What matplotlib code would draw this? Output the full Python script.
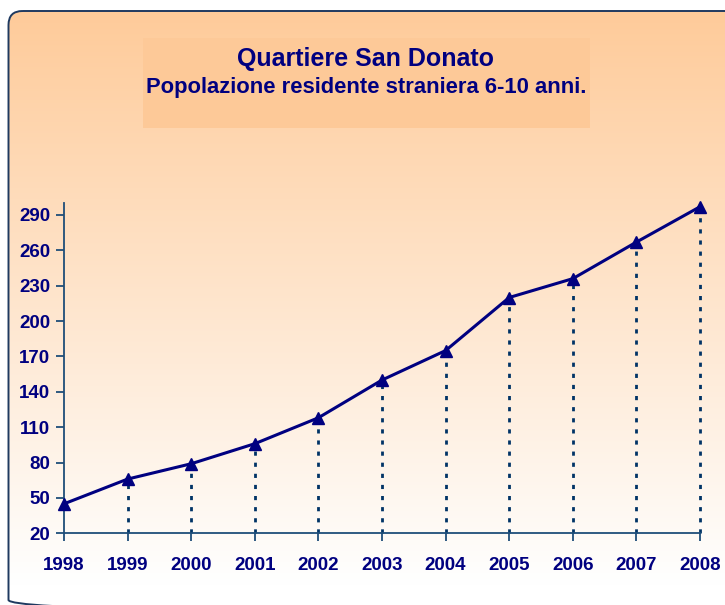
import numpy as np
import matplotlib
matplotlib.use("Agg")
import matplotlib.pyplot as plt
from matplotlib.patches import FancyBboxPatch, Rectangle

years = [1998, 1999, 2000, 2001, 2002, 2003, 2004, 2005, 2006, 2007, 2008]
values = [45, 66, 79, 96, 118, 150, 175, 220, 236, 267, 297]
yticks = [20, 50, 80, 110, 140, 170, 200, 230, 260, 290]
title = "Quartiere San Donato"
subtitle = "Popolazione residente straniera 6-10 anni."

navy = "#000080"
axcol = "#1F4E79"
W, H = 725, 605
fig = plt.figure(figsize=(W / 100, H / 100), dpi=100)
fig.patch.set_facecolor("white")

# background with gradient inside rounded frame
bg = fig.add_axes([0, 0, 1, 1])
bg.set_xlim(0, W)
bg.set_ylim(H, 0)
bg.axis("off")
top = np.array([254, 203, 154]) / 255
bot = np.array([255, 255, 255]) / 255
t = np.linspace(0, 1, 256)[:, None]
t = np.clip(t * 1.05, 0, 1)
grad = top[None, :] * (1 - t) + bot[None, :] * t
grad = np.repeat(grad[:, None, :], 2, axis=1)
frame = FancyBboxPatch((8.5, 11), 730, 603, boxstyle="round,pad=0,rounding_size=14",
                       facecolor="none", edgecolor="#1F3A60", linewidth=1.4, zorder=3)
bg.add_patch(frame)
im = bg.imshow(grad, extent=(8, 740, 614, 11), aspect="auto", zorder=1)
im.set_clip_path(frame)
bg.add_patch(Rectangle((143, 38), 447, 90, facecolor="#FDC998", edgecolor="none", zorder=2))
bg.text(366, 59, title, ha="center", va="center", fontsize=18, fontweight="bold",
        color=navy, family="Liberation Sans", zorder=4)
bg.text(366, 87, subtitle, ha="center", va="center", fontsize=15.8, fontweight="bold",
        color=navy, family="Liberation Sans", zorder=4)

ax = fig.add_axes([64 / W, 1 - 533.3 / H, (700 - 64) / W, (533.3 - 203.2) / H])
ax.patch.set_alpha(0)
ax.set_xlim(1998, 2008)
ax.set_ylim(20, 300)
ax.vlines(years[1:], 20, values[1:], colors="#003366", linestyles=(0, (1.5, 2.5)),
          linewidth=2, clip_on=False)
ax.plot(years, values, color=navy, linewidth=2.2, marker="^", markersize=8.5,
        markerfacecolor=navy, markeredgecolor=navy, clip_on=False, zorder=5)
ax.set_xticks(years)
ax.set_yticks(yticks)
for s in ["top", "right"]:
    ax.spines[s].set_visible(False)
for s in ["left", "bottom"]:
    ax.spines[s].set_color(axcol)
    ax.spines[s].set_linewidth(1.3)
ax.tick_params(axis="both", colors=axcol, direction="out", length=6, width=1.3)
for lab in ax.get_xticklabels() + ax.get_yticklabels():
    lab.set_fontweight("bold")
    lab.set_color(navy)
    lab.set_fontsize(13.5)
    lab.set_family("Liberation Sans")
ax.tick_params(axis="x", pad=11)
ax.tick_params(axis="y", pad=4)

fig.savefig("out.png", dpi=100)
